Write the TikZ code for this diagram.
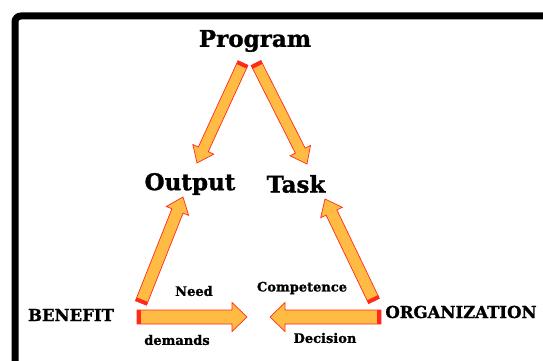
\documentclass[tikz,border=0pt]{standalone}
\usepackage{fontspec}
\setmainfont{DejaVu Serif}[BoldFeatures={FakeBold=1.2}]
\usetikzlibrary{calc}
\definecolor{arrowfill}{HTML}{FFBB44}
\definecolor{arrowline}{HTML}{FF2A1E}

% fat block arrow: #1 shaft half width, #2 head half width,
% from node #3 (offset #4) to node #5 (offset #6)
\newcommand\fatarrow[6]{%
  \path ($(#3)+(#4)$) coordinate (fa-s) ($(#5)+(#6)$) coordinate (fa-e);
  \filldraw[fatbody] let \p1=($(fa-e)-(fa-s)$), \n1={atan2(\y1,\x1)}, \n2={veclen(\x1,\y1)} in
    [shift={(fa-s)}, rotate=\n1]
    (0pt,-#1) -- ({\n2-15pt},-#1) -- ({\n2-15pt},-#2) -- (\n2,0pt)
    -- ({\n2-15pt},#2) -- ({\n2-15pt},#1) -- (0pt,#1) -- cycle;
  \draw[fatcap] let \p1=($(fa-e)-(fa-s)$), \n1={atan2(\y1,\x1)} in
    [shift={(fa-s)}, rotate=\n1]
    (1.8pt,-#1) -- (1.8pt,#1);
}

\begin{document}
\begin{tikzpicture}[x=1pt,y=-1pt,
    big/.style={font=\bfseries\fontsize{23}{27}\selectfont},
    side/.style={font=\bfseries\fontsize{16.5}{20}\selectfont},
    small/.style={font=\bfseries\fontsize{13}{16}\selectfont},
    fatbody/.style={fill=arrowfill,draw=arrowline,line width=0.7pt,line join=miter},
    fatcap/.style={draw=arrowline,line width=3.6pt}]
  \useasboundingbox (0,0) rectangle (543,361);
  \clip (0,0) rectangle (543,361);
  \draw[line width=7pt,rounded corners=6pt] (15,16) rectangle (620,440);

  \node[big] (prog) at (255,41) {Program};
  \node[big] (out) at (190,184) {Output};
  \node[big] (task) at (296,184) {Task};
  \node[side] (ben) at (71,315) {BENEFIT};
  \node[side] (org) at (461,312) {ORGANIZATION};
  \coordinate (meetL) at (247,317);
  \coordinate (meetR) at (270,317);

  \fatarrow{5.5pt}{11.5pt}{prog}{-12,22}{out}{7,-21}
  \fatarrow{5.5pt}{11.5pt}{prog}{1,22}{task}{11,-20}
  \fatarrow{6pt}{12pt}{ben}{70,-12}{out}{-7,13}
  \fatarrow{6pt}{12pt}{org}{-87,-11}{task}{29,15}
  \fatarrow{7pt}{14.5pt}{ben}{66,2}{meetL}{0,0}
  \fatarrow{7pt}{14.5pt}{org}{-80,5}{meetR}{0,0}

  \node[small] (need) at (194,291) {Need};
  \node[small] (dem) at (177,340) {demands};
  \node[small] (comp) at (302,288) {Competence};
  \node[small] (dec) at (325,338) {Decision};
\end{tikzpicture}
\end{document}
